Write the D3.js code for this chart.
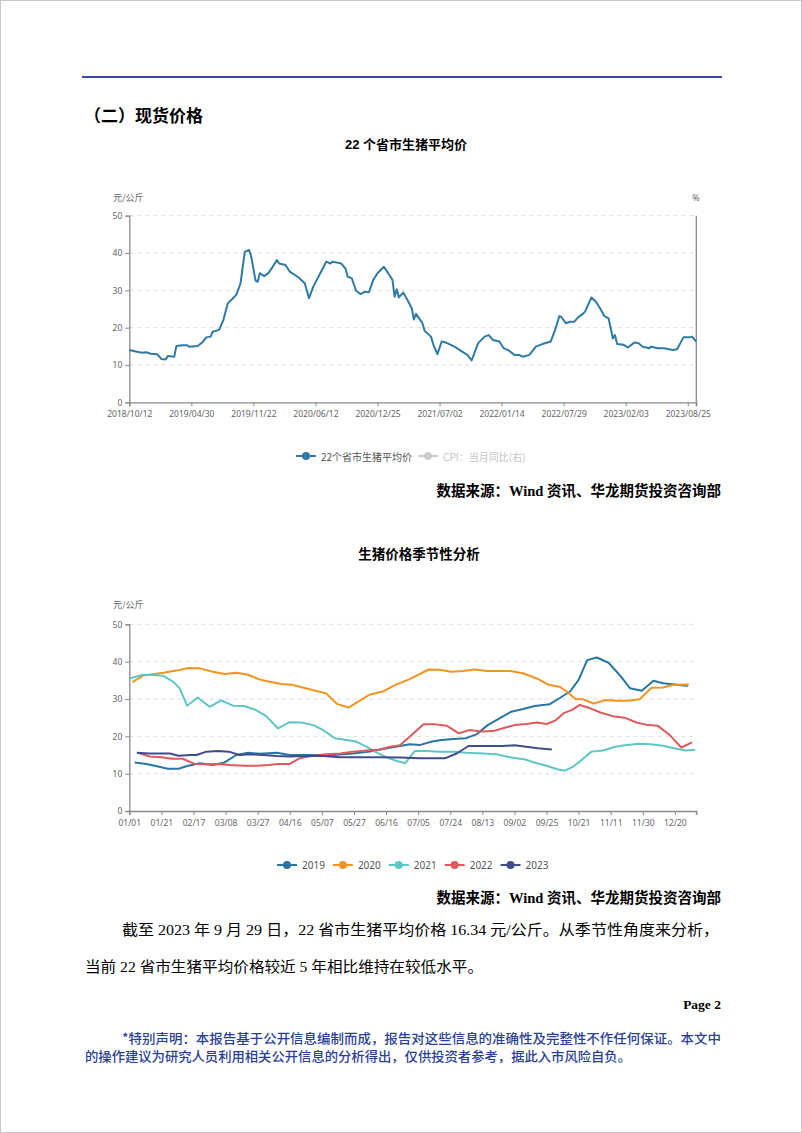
<!DOCTYPE html>
<html><head><meta charset="utf-8">
<script src="https://cdn.jsdelivr.net/npm/d3@7"></script>
<style>body{margin:0;background:#fff}svg{display:block}</style>
</head><body><div id="c"></div>
<script>
// ---------- Chart 1 data: 22个省市生猪平均价 (category index, 元/公斤) ----------
const priceLabels = ["2018/10/12","2019/04/30","2019/11/22","2020/06/12","2020/12/25","2021/07/02","2022/01/14","2022/07/29","2023/02/03","2023/08/25"];
const priceLabelIdx = [0,29,58,87,116,145,174,203,232,261];
const priceLastIdx = 265;
const priceIdx = [0,3,6,8,10,13,15,17,18,21,22,25,27,28,32,34,36,38,39,42,44,46,48,50,52,53,54,56,57,59,60,61,63,65,67,69,70,73,75,79,82,84,86,88,90,92,94,95,99,101,102,104,106,108,110,112,114,116,119,121,123,124,125,126,128,130,132,133,134,137,138,141,142,144,146,148,152,155,158,160,163,166,168,170,173,175,177,180,182,184,187,190,193,197,199,201,202,204,206,208,210,212,213,216,218,220,222,224,226,227,228,231,233,236,238,240,243,244,247,250,254,256,259,262,263,265];
const priceVal = [14.0,13.6,13.3,13.4,13.0,12.9,11.6,11.5,12.4,12.2,15.1,15.3,15.3,14.9,15.1,16.0,17.4,17.6,18.9,19.4,22.1,26.5,27.6,28.8,31.9,36.3,40.3,40.8,39.0,32.6,32.3,34.6,33.8,34.6,36.3,38.1,37.2,36.8,35.0,33.5,31.9,27.9,31.0,33.2,35.4,37.7,37.2,37.7,37.2,35.9,33.7,33.2,29.9,29.0,29.6,29.5,32.8,34.6,36.3,34.6,32.8,28.3,30.3,28.1,29.4,27.4,25.2,22.2,23.7,21.2,19.2,17.6,15.6,12.9,16.3,16.0,14.9,13.8,12.7,11.2,15.8,17.6,18.0,16.7,16.3,14.5,14.0,12.7,12.7,12.2,12.7,14.9,15.6,16.3,19.4,23.1,22.8,21.2,21.6,21.6,22.9,23.7,24.3,28.1,27.0,25.2,23.1,22.5,17.1,18.0,15.6,15.4,14.7,16.0,15.8,14.9,14.5,14.9,14.5,14.5,14.0,14.2,17.4,17.4,17.6,16.3];
const priceLegend = ["22个省市生猪平均价","CPI：当月同比(右)"];

// ---------- Chart 2 data: 生猪价格季节性分析 ----------
const seasonLabels = ["01/01","01/21","02/17","03/08","03/27","04/16","05/07","05/27","06/16","07/05","07/24","08/13","09/02","09/25","10/21","11/11","11/30","12/20"];
const seasonLastIdx = 53;
const seasonYears = ["2019","2020","2021","2022","2023"];
const s2019 = [[0.5,13.0],[1.6,12.6],[2.7,11.9],[3.6,11.3],[4.6,11.3],[5.5,12.1],[6.6,12.8],[7.8,12.3],[8.9,13.0],[10,15.0],[11.1,15.6],[12.2,15.3],[13.8,15.6],[15,15.0],[16.3,15.0],[17.8,15.0],[19.1,15.0],[20.9,15.4],[22.5,15.9],[24.1,16.8],[25.3,17.4],[26.2,17.9],[27.2,17.7],[28.3,18.6],[29.2,19.0],[30.3,19.3],[31.5,19.5],[32.5,20.6],[33.5,23.0],[34.6,24.8],[35.7,26.6],[36.8,27.3],[37.9,28.1],[39.3,28.6],[40.2,30.2],[41.2,32.0],[42,35.1],[42.8,40.4],[43.7,41.1],[44.8,39.7],[45.9,36.2],[46.8,32.9],[47.9,32.2],[49,34.9],[49.9,34.2],[51,33.9],[52.2,33.5]];
const s2020 = [[0.3,34.5],[1.3,36.3],[3.2,37.0],[4.4,37.6],[5.5,38.3],[6.6,38.2],[7.8,37.3],[8.9,36.7],[10,37.0],[11.1,36.5],[12.2,35.2],[13.1,34.6],[14.2,34.0],[15.2,33.8],[16.3,33.0],[17.4,32.2],[18.4,31.5],[19.4,28.7],[20.5,27.7],[21.5,29.5],[22.5,31.2],[23.7,32.0],[24.8,33.7],[26.1,35.2],[28,37.9],[29,37.8],[30.1,37.3],[31.2,37.5],[32.3,37.9],[33.4,37.5],[34.6,37.5],[35.6,37.5],[36.8,36.9],[38.1,35.5],[39.2,33.8],[40.2,33.3],[40.9,32.0],[41.7,30.0],[42.4,29.9],[43.4,28.8],[44.5,29.7],[45.5,29.5],[46.6,29.5],[47.7,29.9],[48.8,33.0],[49.9,33.1],[50.9,33.8],[52,33.9],[52.3,33.8]];
const s2021 = [[0,35.5],[1.2,36.4],[2.2,36.4],[3.2,36.2],[4.1,34.6],[4.7,32.9],[5.4,28.2],[6.4,30.4],[7.5,27.9],[8.6,29.6],[9.7,28.2],[10.7,28.1],[11.8,27.1],[12.8,25.4],[13.9,22.1],[15,23.8],[16.1,23.7],[17.2,23.0],[18.1,21.7],[19.2,19.5],[20.3,19.0],[21.2,18.6],[22.2,17.2],[23.1,15.7],[24.1,14.3],[25,13.4],[25.8,12.8],[26.7,16.1],[27.8,16.1],[29,15.9],[30.3,15.9],[31.5,15.6],[33.1,15.4],[34.3,15.2],[35.6,14.4],[37,13.8],[38.1,12.8],[39,12.1],[40,11.2],[40.7,10.8],[41.5,11.9],[42.3,13.7],[43.2,15.9],[44.3,16.2],[45.4,17.2],[46.5,17.7],[47.7,18.0],[48.7,17.9],[49.9,17.5],[50.9,16.8],[52,16.2],[52.9,16.4]];
const s2022 = [[0.8,15.6],[1.9,14.6],[3,14.4],[4,14.0],[5,14.0],[6.1,12.6],[7.2,12.5],[8.3,12.6],[9.4,12.3],[10.7,12.1],[11.9,12.1],[13,12.3],[13.9,12.6],[15,12.6],[15.9,14.1],[17.2,14.8],[18.4,15.2],[19.7,15.4],[20.9,15.9],[22.2,16.2],[23.4,16.5],[24.4,17.2],[25.3,17.6],[26.2,19.9],[27.5,23.2],[28.6,23.2],[29.7,22.8],[30.8,20.8],[31.8,21.7],[32.9,21.3],[34,21.4],[35.1,22.3],[36,23.0],[37.1,23.3],[38.1,23.7],[39,23.3],[39.8,24.2],[40.6,26.2],[41.4,27.1],[42.1,28.4],[43.1,27.5],[44.1,26.3],[45.2,25.4],[46.3,25.0],[47.4,23.7],[48.5,23.0],[49.4,22.8],[50.5,20.4],[51.6,17.0],[52.6,18.4]];
const s2023 = [[0.7,15.6],[1.9,15.4],[2.9,15.4],[3.8,15.4],[4.6,14.8],[5.7,15.0],[6.3,15.0],[7.2,15.9],[8.3,16.1],[9.3,15.9],[10.3,15.0],[11.3,15.2],[12.5,15.0],[13.8,14.7],[15,14.6],[16.3,14.7],[17.8,14.8],[19.7,14.4],[21.6,14.4],[23.4,14.4],[25.3,14.3],[27.2,14.1],[28.4,14.1],[29.5,14.1],[30.6,15.4],[31.7,17.4],[32.8,17.4],[34,17.4],[34.9,17.4],[36,17.6],[37.1,17.2],[38.2,16.8],[39.5,16.5]];
const yTicks = [0,10,20,30,40,50];

// ---------- layout ----------
const W = 802, H = 1133;
const sans = '"Noto Sans","Noto Sans CJK SC",sans-serif';
const cjkSans = '"Noto Sans CJK SC","Noto Sans",sans-serif';
const serif = '"Liberation Serif","Noto Sans CJK SC",serif';
const axisGrey = "#8a8a8a", labelGrey = "#666";

const svg = d3.select("#c").append("svg").attr("width", W).attr("height", H);
svg.append("rect").attr("width", W).attr("height", H).attr("fill", "#fff");
svg.append("rect").attr("x", 0.5).attr("y", 0.5).attr("width", W - 1).attr("height", H - 1)
  .attr("fill", "none").attr("stroke", "#c8c8c8");

// header rule
svg.append("line").attr("x1", 82).attr("x2", 722).attr("y1", 77).attr("y2", 77)
  .attr("stroke", "#3446a6").attr("stroke-width", 1.8);

function txt(x, y, s, o) {
  const t = svg.append("text").attr("x", x).attr("y", y).text(s)
    .attr("dominant-baseline", "central")
    .attr("font-family", o.ff || sans).attr("font-size", o.fs || 12)
    .attr("font-weight", o.fw || 400).attr("fill", o.fill || "#000")
    .attr("text-anchor", o.anchor || "start");
  if (o.len) t.attr("textLength", o.len).attr("lengthAdjust", "spacingAndGlyphs");
  return t;
}

txt(84, 114, "（二）现货价格", {ff: cjkSans, fs: 17, fw: 700});
txt(406, 144, "22 个省市生猪平均价", {ff: '"Liberation Sans","Noto Sans CJK SC",sans-serif', fs: 13, fw: 700, anchor: "middle"});

function drawAxes(g, x, y, x0, x1, yTop, yBot, tickVals, tickLabs, rightAxis) {
  g.selectAll(".grid").data(yTicks.filter(d => d > 0)).join("line")
    .attr("x1", x0).attr("x2", x1).attr("y1", d => y(d)).attr("y2", d => y(d))
    .attr("stroke", "#dcdcdc").attr("stroke-dasharray", "4,4").attr("stroke-width", 1);
  const ya = g.append("g").attr("transform", `translate(${x0},0)`)
    .call(d3.axisLeft(y).tickValues(yTicks).tickSize(4).tickPadding(3));
  const xa = g.append("g").attr("transform", `translate(0,${yBot})`)
    .call(d3.axisBottom(x).tickValues(tickVals).tickFormat((d, i) => tickLabs[i]).tickSize(4).tickPadding(5));
  [ya, xa].forEach(a => {
    a.select(".domain").attr("stroke", axisGrey).attr("stroke-width", 1.3);
    a.selectAll(".tick line").attr("stroke", axisGrey);
    a.selectAll("text").attr("fill", labelGrey).attr("font-family", sans);
  });
  ya.selectAll("text").attr("font-size", 8.5);
  xa.selectAll("text").attr("font-size", 8.5);
  g.append("line").attr("x1", x1).attr("x2", x1).attr("y1", yBot).attr("y2", yBot + 4).attr("stroke", axisGrey);
  if (rightAxis) {
    g.append("line").attr("x1", x1).attr("x2", x1).attr("y1", yTop).attr("y2", yBot)
      .attr("stroke", axisGrey).attr("stroke-width", 1.3);
  }
}

function legend(items, y, startX, gap) {
  let x = startX;
  items.forEach(it => {
    const g = svg.append("g");
    g.append("line").attr("x1", x).attr("x2", x + 20).attr("y1", y).attr("y2", y)
      .attr("stroke", it.color).attr("stroke-width", 2);
    g.append("circle").attr("cx", x + 10).attr("cy", y).attr("r", 4).attr("fill", it.color);
    const t = g.append("text").attr("x", x + 25).attr("y", y).attr("dominant-baseline", "central")
      .attr("font-family", it.ff || sans).attr("font-size", 10).attr("fill", it.textColor).text(it.name);
    x += 25 + t.node().getComputedTextLength() + gap;
  });
}

// ---------- Chart 1 ----------
{
  const x0 = 129.3, x1 = 696.3, yTop = 215.7, yBot = 402.3;
  const x = d3.scaleLinear().domain([0, priceLastIdx]).range([x0, x1]);
  const y = d3.scaleLinear().domain([0, 50]).range([yBot, yTop]);
  const g = svg.append("g");
  drawAxes(g, x, y, x0, x1, yTop, yBot, priceLabelIdx, priceLabels, true);
  txt(113, 197, "元/公斤", {ff: cjkSans, fs: 9, fill: labelGrey});
  txt(696, 197, "%", {fs: 9, fill: labelGrey, anchor: "middle"});
  const line = d3.line().x((d, i) => x(priceIdx[i])).y(d => y(d));
  g.append("path").attr("d", line(priceVal)).attr("fill", "none")
    .attr("stroke", "#2f7ba6").attr("stroke-width", 2).attr("stroke-linejoin", "round");
  legend([
    {name: priceLegend[0], color: "#2f7ba6", textColor: "#555", ff: cjkSans},
    {name: priceLegend[1], color: "#cccccc", textColor: "#c4c4c4", ff: cjkSans}
  ], 456, 296, 6);
}
txt(721, 491, "数据来源：Wind 资讯、华龙期货投资咨询部", {ff: serif, fs: 14.5, fw: 700, anchor: "end"});

// ---------- Chart 2 ----------
txt(419, 553, "生猪价格季节性分析", {ff: cjkSans, fs: 13.5, fw: 700, anchor: "middle"});
{
  const x0 = 129.3, x1 = 696.3, yTop = 624.3, yBot = 811;
  const x = d3.scaleLinear().domain([0, seasonLastIdx]).range([x0, x1]);
  const y = d3.scaleLinear().domain([0, 50]).range([yBot, yTop]);
  const g = svg.append("g");
  const idx = seasonLabels.map((d, i) => i * 3);
  drawAxes(g, x, y, x0, x1, yTop, yBot, idx, seasonLabels, false);
  txt(113, 604, "元/公斤", {ff: cjkSans, fs: 9, fill: labelGrey});
  const colors = ["#2776a3", "#f39322", "#5ec6c6", "#e0595d", "#3f4d8c"];
  const series = [s2019, s2020, s2021, s2022, s2023];
  const line = d3.line().x(d => x(d[0])).y(d => y(d[1]));
  series.forEach((s, i) => {
    g.append("path").attr("d", line(s)).attr("fill", "none").attr("stroke", colors[i])
      .attr("stroke-width", 2).attr("stroke-linejoin", "round");
  });
  legend(seasonYears.map((n, i) => ({name: n, color: colors[i], textColor: "#555"})), 865, 277, 8);
}
txt(721, 898, "数据来源：Wind 资讯、华龙期货投资咨询部", {ff: serif, fs: 14.5, fw: 700, anchor: "end"});

// ---------- text ----------
txt(122, 930, "截至 2023 年 9 月 29 日，22 省市生猪平均价格 16.34 元/公斤。从季节性角度来分析，", {ff: serif, fs: 15, len: 597});
txt(85, 967, "当前 22 省市生猪平均价格较近 5 年相比维持在较低水平。", {ff: serif, fs: 15, len: 398});
txt(721, 1004, "Page 2", {ff: serif, fs: 13.5, fw: 700, anchor: "end"});
txt(122, 1037, "*特别声明：本报告基于公开信息编制而成，报告对这些信息的准确性及完整性不作任何保证。本文中", {ff: cjkSans, fs: 13, fw: 500, fill: "#2a3f96", len: 599});
txt(85, 1055, "的操作建议为研究人员利用相关公开信息的分析得出，仅供投资者参考，据此入市风险自负。", {ff: cjkSans, fs: 13, fw: 500, fill: "#2a3f96", len: 546});
</script></body></html>
